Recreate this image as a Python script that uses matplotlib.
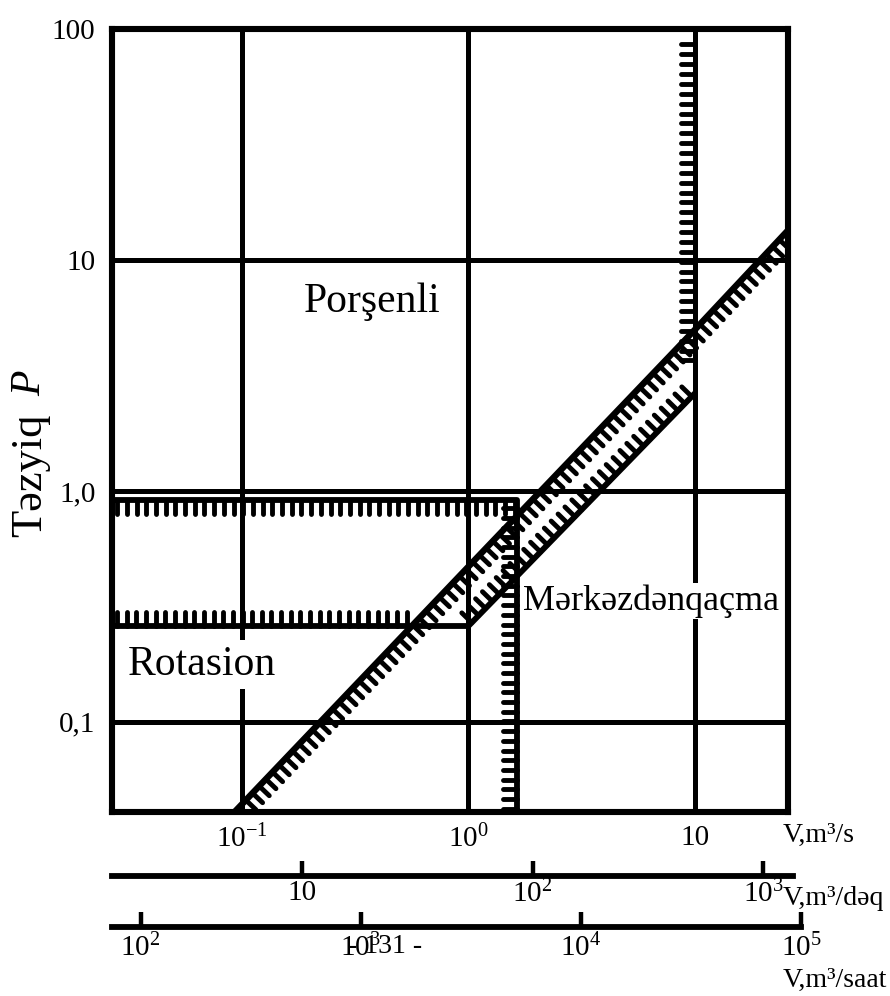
import matplotlib.pyplot as plt
import matplotlib.patheffects as pe
from matplotlib.ticker import NullLocator

plt.rcParams['font.family'] = ['Liberation Serif', 'DejaVu Serif']
plt.rcParams['mathtext.fontset'] = 'custom'
plt.rcParams['mathtext.rm'] = 'Liberation Serif'
plt.rcParams['mathtext.it'] = 'Liberation Serif:italic'

W, H = 890, 996

# main scales: flow V (m3/s) and pressure P
v_lim = (0.02675, 25.7)
p_lim = (0.0407, 100)
v_ticks = [0.1, 1, 10]
v_labels = [r'$\mathrm{10}^{\mathit{-1}}$', r'$\mathrm{10}^{\mathit{0}}$', '10']
p_ticks = [0.1, 1, 10, 100]
p_labels = ['0,1', '1,0', '10', '100']

# extra flow scales under the chart (m3/min and m3/h)
min_lim = (1.499, 1349)
min_ticks = [10, 100, 1000]
min_labels = ['10', r'$\mathrm{10}^{\mathit{2}}$', r'$\mathrm{10}^{\mathit{3}}$']
hour_lim = (74.1, 1.001e5)
hour_ticks = [1e2, 1e3, 1e4, 1e5]
hour_labels = [r'$\mathrm{10}^{\mathit{2}}$', r'$\mathrm{10}^{\mathit{3}}$',
               r'$\mathrm{10}^{\mathit{4}}$', r'$\mathrm{10}^{\mathit{5}}$']

# region boundaries
upper_v = [0.02, 1.63, 1.63]          # rotary upper limit
upper_p = [0.91, 0.91, 0.03]
lower_v = [0.02, 1.0, 10.0]           # rotary lower limit + centrifugal lower edge
lower_p = [0.26, 0.26, 2.65]
lower_teeth_v = [0.02, 0.56]
lower_teeth_p = [0.26, 0.26]
edge_v = [1.0, 10.0]
edge_p = [0.26, 2.65]
diag_v = [0.088, 1.0, 10.0, 26.0]     # piston / centrifugal boundary
diag_p = [0.0385, 0.47, 5.0, 13.6]
piston_v = [10.0, 10.0]               # piston right limit
piston_p = [90.0, 3.5]


def fx(x):
    return x / W


def fy(y):
    return 1 - y / H


fig = plt.figure(figsize=(W / 100, H / 100), dpi=100)
ax = fig.add_axes([fx(112), fy(812), (788 - 112) / W, (812 - 29) / H])
ax.set_xscale('log')
ax.set_yscale('log')
ax.set_xlim(v_lim)
ax.set_ylim(p_lim)
ax.set_xticks(v_ticks, v_labels)
ax.set_yticks(p_ticks, p_labels)
ax.xaxis.set_minor_locator(NullLocator())
ax.yaxis.set_minor_locator(NullLocator())
ax.tick_params(length=0, labelsize=21)
ax.tick_params(axis='x', pad=9)
ax.tick_params(axis='y', pad=12)
ax.grid(True, color='black', lw=3.6)
for s in ax.spines.values():
    s.set_linewidth(4.4)
    s.set_zorder(5)

teeth = dict(spacing=6.9, length=1.45, linewidth=3.5, capstyle='round')

ax.plot(upper_v, upper_p, color='black', lw=4.2, solid_capstyle='butt', zorder=3,
        path_effects=[pe.withTickedStroke(angle=-90, **teeth)])
ax.plot(lower_v, lower_p, color='black', lw=4.2, solid_capstyle='butt', zorder=3)
ax.plot(lower_teeth_v, lower_teeth_p, color='black', lw=0, zorder=3,
        path_effects=[pe.TickedStroke(angle=90, **teeth)])
ax.plot(edge_v, edge_p, color='black', lw=0, zorder=3,
        path_effects=[pe.TickedStroke(angle=90, **teeth)])
ax.plot(diag_v, diag_p, color='black', lw=4.6, solid_capstyle='butt', zorder=3,
        path_effects=[pe.withTickedStroke(angle=-90, **teeth)])
ax.plot(piston_v, piston_p, color='black', lw=3.6, solid_capstyle='butt', zorder=3,
        path_effects=[pe.withTickedStroke(angle=-90, **teeth)])

box = dict(facecolor='white', edgecolor='none', pad=4)
ax.text(0.374, 6.6, 'Porşenli', fontsize=30, ha='center', va='center', zorder=1.8)
ax.text(0.0667, 0.177, 'Rotasion', fontsize=30, ha='center', va='center',
        bbox=box, zorder=1.8)
ax.text(6.4, 0.334, 'Mərkəzdənqaçma', fontsize=26, ha='center', va='center',
        bbox=dict(facecolor='white', edgecolor='none', pad=1), zorder=1.8)

# y axis title: regular word plus italic P
fig.text(fx(30), fy(537), 'Təzyiq', fontsize=32, rotation=90, ha='center', va='bottom')
fig.text(fx(30), fy(396), 'P', fontsize=30, style='italic', rotation=90,
         ha='center', va='bottom')


def flow_scale(y_px, x1_px, lim, ticks, labels, pad):
    a = fig.add_axes([fx(112), fy(y_px), (x1_px - 112) / W, 1e-4])
    a.set_xscale('log')
    a.set_xlim(lim)
    a.set_xticks(ticks, labels)
    a.xaxis.set_minor_locator(NullLocator())
    a.set_yticks([])
    a.patch.set_visible(False)
    for side in ('top', 'left', 'right'):
        a.spines[side].set_visible(False)
    a.spines['bottom'].set_linewidth(4.2)
    a.tick_params(axis='x', direction='in', length=11, width=3.2,
                  labelsize=21, pad=pad)
    return a


flow_scale(876, 793, min_lim, min_ticks, min_labels, 3)
flow_scale(927, 801, hour_lim, hour_ticks, hour_labels, 5)

fig.text(fx(783), fy(835), 'V,m³/s', fontsize=20, ha='left', va='center')
fig.text(fx(783), fy(898), 'V,m³/dəq', fontsize=20, ha='left', va='center')
fig.text(fx(783), fy(980), 'V,m³/saat', fontsize=20, ha='left', va='center')
fig.text(fx(385), fy(946), '- 131 -', fontsize=20, ha='center', va='center')

fig.savefig('out.png', dpi=100)
